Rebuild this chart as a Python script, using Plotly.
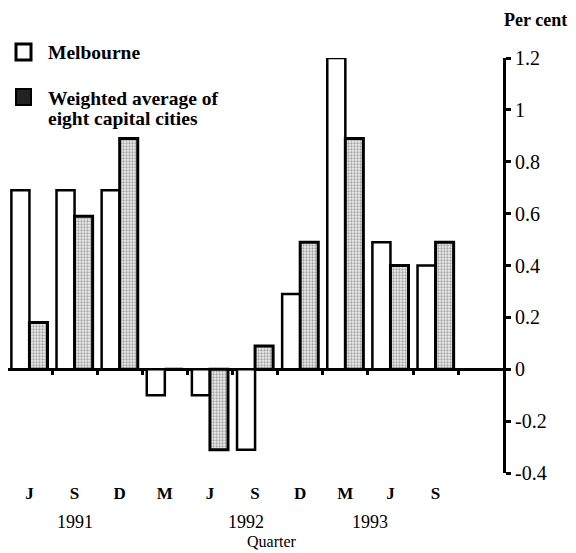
import plotly.graph_objects as go

quarters = ["J", "S", "D", "M", "J", "S", "D", "M", "J", "S"]
melbourne = [0.69, 0.69, 0.69, -0.1, -0.1, -0.31, 0.29, 1.2, 0.49, 0.4]
weighted = [0.18, 0.59, 0.89, 0.0, -0.31, 0.09, 0.49, 0.89, 0.4, 0.49]
years = ["1991", "1992", "1993"]
year_pos = [1, 4.8, 7.55]
y_ticks = [-0.4, -0.2, 0, 0.2, 0.4, 0.6, 0.8, 1, 1.2]
y_ticktext = ["-0.4", "-0.2", "0", "0.2", "0.4", "0.6", "0.8", "1", "1.2"]
series_names = ["Melbourne", "Weighted average of", "eight capital cities"]

SERIF = "Liberation Serif, Times New Roman, serif"
OFF = 8  # default page body margin
W, H = 576 - OFF, 553 - OFF
# plot area in page pixels: left 8, right 503, top 58, bottom 473
ML, MR, MT, MB = 0, W - (503 - OFF), 58 - OFF, H - (473 - OFF)
PW, PH = W - ML - MR, H - MT - MB


def px(x):
    return (x - OFF - ML) / PW


def py(y):
    return (H - MB - (y - OFF)) / PH


xs = list(range(len(quarters)))
bounds = [i + 0.5 for i in range(len(quarters))]
x_range = [-0.475, 10.494]

fig = go.Figure()
fig.add_trace(go.Bar(
    x=xs, y=melbourne, name=series_names[0],
    marker=dict(color="white", line=dict(color="black", width=2.5)),
))
fig.add_trace(go.Bar(
    x=xs, y=weighted, name=" ".join(series_names[1:]),
    marker=dict(color="white", line=dict(color="black", width=3),
                pattern=dict(shape=".", fgcolor="#555555", bgcolor="#eeeeee",
                             size=3, solidity=0.45)),
))
fig.add_trace(go.Scatter(
    x=bounds, y=[0] * len(bounds), xaxis="x2", mode="none",
    showlegend=False, hoverinfo="skip",
))

fig.update_layout(
    width=W, height=H,
    margin=dict(l=ML, r=MR, t=MT, b=MB, autoexpand=False),
    paper_bgcolor="white", plot_bgcolor="white",
    barmode="group", bargap=0.2, bargroupgap=0,
    font=dict(family=SERIF, color="black", size=18),
    showlegend=False,
    xaxis=dict(range=x_range, tickvals=xs, ticktext=quarters,
               showline=False, showgrid=False, zeroline=False, ticks="",
               tickfont=dict(family=SERIF, size=17, weight="bold"),
               ticklabelstandoff=8),
    xaxis2=dict(range=x_range, overlaying="x", anchor="free", position=0.25,
                side="bottom", showline=False, showgrid=False, zeroline=False,
                tickvals=bounds, ticks="outside", ticklen=5, tickwidth=2.5,
                tickcolor="black", showticklabels=False),
    yaxis=dict(range=[-0.4, 1.2], side="right", tickvals=y_ticks, ticktext=y_ticktext,
               showline=True, linecolor="black", linewidth=3,
               ticks="outside", ticklen=5, tickwidth=2.5, tickcolor="black",
               showgrid=False, zeroline=True, zerolinecolor="black", zerolinewidth=2.5,
               tickfont=dict(family=SERIF, size=20)),
)

for yr, p in zip(years, year_pos):
    fig.add_annotation(x=p, y=py(522), xref="x", yref="paper", text=yr, showarrow=False,
                       font=dict(family=SERIF, size=18), xanchor="center", yanchor="middle")
fig.add_annotation(x=px(272), y=py(541), xref="paper", yref="paper", text="Quarter",
                   showarrow=False, font=dict(family=SERIF, size=16),
                   xanchor="center", yanchor="middle")
fig.add_annotation(x=px(502), y=py(20), xref="paper", yref="paper", text="Per cent",
                   showarrow=False, font=dict(family=SERIF, size=18, weight="bold"),
                   xanchor="left", yanchor="middle")

# manual legend
fig.add_shape(type="rect", xref="paper", yref="paper",
              x0=px(16), x1=px(31), y0=py(44), y1=py(60),
              fillcolor="white", line=dict(color="black", width=3))
fig.add_shape(type="rect", xref="paper", yref="paper",
              x0=px(16), x1=px(31), y0=py(89), y1=py(105),
              fillcolor="#222222", line=dict(color="black", width=2))
fig.add_annotation(x=px(46), y=py(52), xref="paper", yref="paper", text=series_names[0],
                   showarrow=False, font=dict(family=SERIF, size=19.5, weight="bold"),
                   xanchor="left", yanchor="middle")
fig.add_annotation(x=px(46), y=py(98), xref="paper", yref="paper", text=series_names[1],
                   showarrow=False, font=dict(family=SERIF, size=19.5, weight="bold"),
                   xanchor="left", yanchor="middle")
fig.add_annotation(x=px(46), y=py(118), xref="paper", yref="paper", text=series_names[2],
                   showarrow=False, font=dict(family=SERIF, size=19.5, weight="bold"),
                   xanchor="left", yanchor="middle")

fig.write_html("out.html")
